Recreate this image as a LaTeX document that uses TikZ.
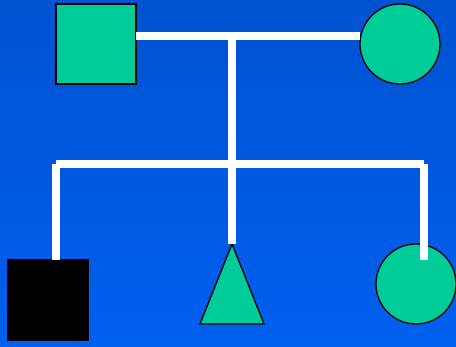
\documentclass[tikz,border=0pt]{standalone}
\usetikzlibrary{shapes.geometric}
\definecolor{teal}{RGB}{0,204,153}
\definecolor{bgtop}{RGB}{0,82,208}
\definecolor{bgbot}{RGB}{0,96,240}
\tikzset{
  person/.style={draw=black, line width=1.3pt, fill=teal, inner sep=0pt, outer sep=0pt},
  male/.style={person, rectangle, minimum size=80pt},
  female/.style={person, circle, minimum size=80pt},
  link/.style={draw=white, line width=8pt, line cap=butt}
}
\begin{document}
\begin{tikzpicture}[x=1pt,y=-1pt]
\shade[top color=bgtop, bottom color=bgbot] (0,0) rectangle (456,347);
\useasboundingbox (0,0) rectangle (456,347);
% parents
\node[male] (father) at (96,44) {};
\node[female] (mother) at (400,44) {};
% children
\node[male, fill=black] (son) at (48,300) {};
\node[person, isosceles triangle, shape border rotate=90, isosceles triangle stretches,
      minimum width=64pt, minimum height=80pt, anchor=apex] (child) at (232,244) {};
\node[female] (daughter) at (416,284) {};
% junctions
\coordinate (marriage) at (232,36);
\coordinate (sib) at (232,164);
\coordinate (sibL) at (56,164);
\coordinate (sibR) at (424,164);
\coordinate (endL) at (56,260);
\coordinate (endR) at (424,260);
% connectors
\draw[link] (father.east |- marriage) -- (mother.west |- marriage);
\draw[link] (marriage) -- (sib);
\draw[link] (sibL) -- (sibR);
\draw[link] (sibL) -- (endL);
\draw[link] (sib) -- (child.apex);
\draw[link] (sibR) -- (endR);
\end{tikzpicture}
\end{document}
